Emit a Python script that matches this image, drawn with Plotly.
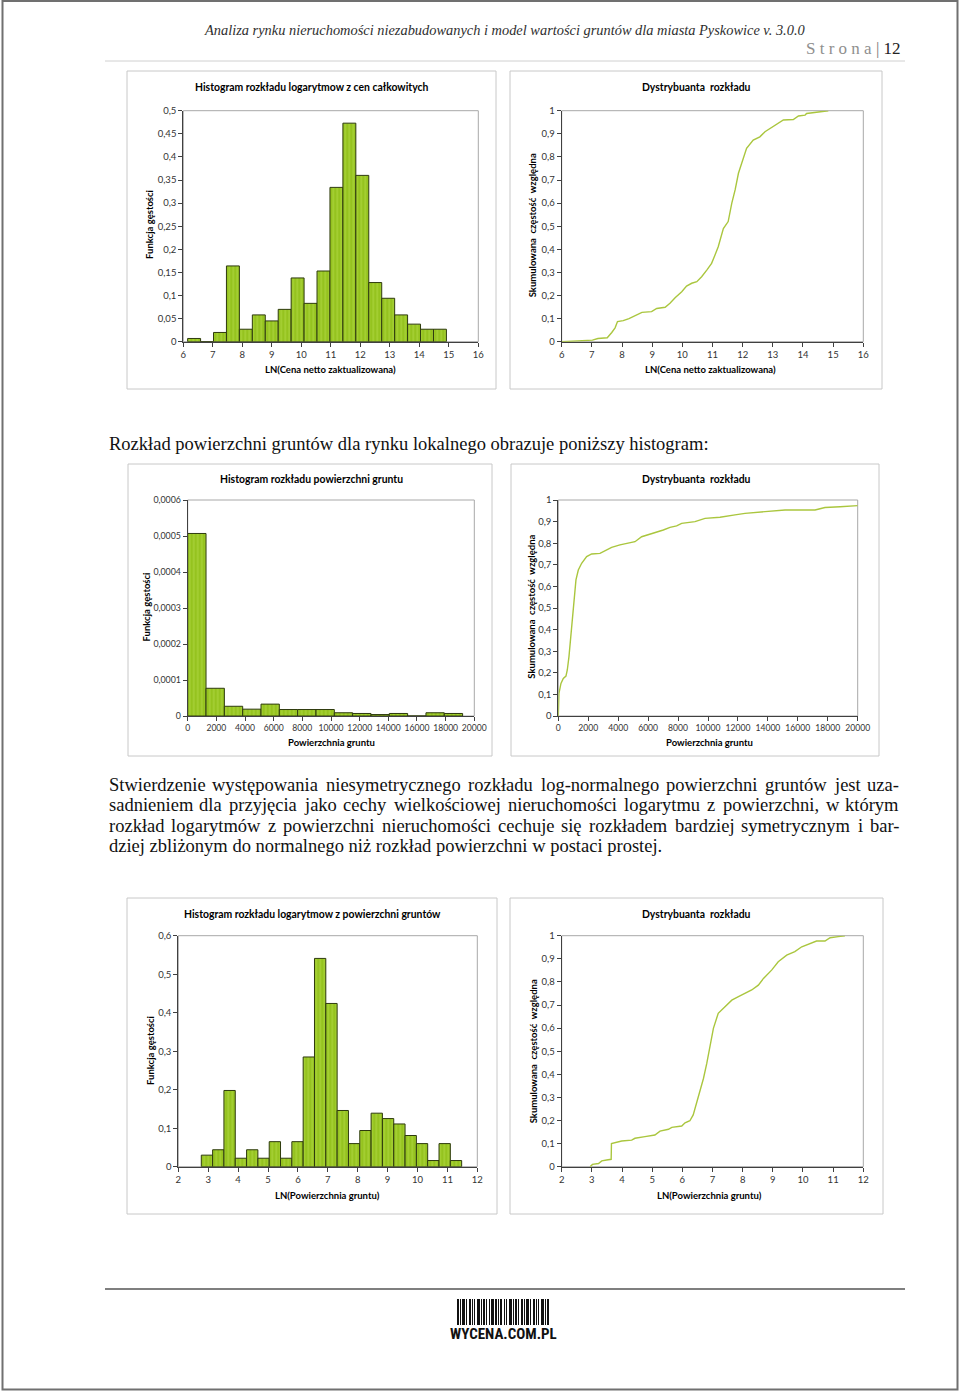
import plotly.graph_objects as go

W, H = 960, 1393

# ---------------- data ----------------
ln_price_bin_left = 6.147
ln_price_bin_width = 0.4386
ln_price_density = [0.007, 0.0, 0.020, 0.164, 0.027, 0.058, 0.045, 0.070, 0.138, 0.083,
                    0.153, 0.334, 0.473, 0.360, 0.128, 0.094, 0.058, 0.038, 0.027, 0.027]

ln_price_cdf_x = [6.0, 7.02, 7.2, 7.51, 7.66, 7.77, 7.85, 8.04, 8.23, 8.49, 8.66, 8.98, 9.15, 9.43,
                  9.59, 9.76, 9.98, 10.14, 10.31, 10.48, 10.64, 10.81, 10.97, 11.08, 11.19, 11.36,
                  11.52, 11.64, 11.75, 11.86, 11.99, 12.13, 12.35, 12.57, 12.74, 12.96, 13.18,
                  13.35, 13.68, 13.85, 14.07, 14.12, 14.45, 14.67, 14.84]
ln_price_cdf_y = [0.0, 0.007, 0.014, 0.017, 0.04, 0.06, 0.087, 0.091, 0.10, 0.115, 0.127, 0.13,
                  0.144, 0.149, 0.166, 0.19, 0.216, 0.241, 0.253, 0.26, 0.281, 0.31, 0.339, 0.374,
                  0.411, 0.49, 0.52, 0.60, 0.657, 0.729, 0.786, 0.837, 0.873, 0.887, 0.909, 0.928,
                  0.948, 0.96, 0.962, 0.977, 0.981, 0.988, 0.993, 0.996, 1.0]

area_bin_left = 0
area_bin_width = 1279
area_density = [5.07e-4, 0.77e-4, 0.27e-4, 0.19e-4, 0.33e-4, 0.18e-4, 0.18e-4, 0.18e-4,
                0.09e-4, 0.07e-4, 0.04e-4, 0.07e-4, 0.0, 0.09e-4, 0.07e-4]

area_cdf_x = [0, 45, 178, 334, 512, 601, 713, 824, 935, 1047, 1180, 1336, 1559, 1893, 2227,
              2784, 3118, 3563, 4120, 4677, 5122, 5568, 6236, 6682, 7016, 7461, 7906, 8240,
              9131, 9800, 10802, 11804, 12472, 13808, 15145, 17149, 17817, 18820, 20000]
area_cdf_y = [0, 0.105, 0.151, 0.174, 0.185, 0.213, 0.275, 0.367, 0.46, 0.552, 0.63, 0.676,
              0.707, 0.738, 0.75, 0.753, 0.765, 0.781, 0.792, 0.80, 0.807, 0.83, 0.843, 0.853,
              0.861, 0.873, 0.88, 0.892, 0.90, 0.915, 0.92, 0.931, 0.938, 0.946, 0.954, 0.954,
              0.965, 0.969, 0.974]

ln_area_bin_left = 2.769
ln_area_bin_width = 0.3786
ln_area_density = [0.030, 0.044, 0.198, 0.022, 0.044, 0.022, 0.065, 0.022, 0.065, 0.285,
                   0.541, 0.424, 0.146, 0.060, 0.094, 0.139, 0.125, 0.111, 0.081, 0.060,
                   0.016, 0.060, 0.016]

ln_area_cdf_x = [2.94, 3.02, 3.22, 3.33, 3.49, 3.64, 3.65, 3.77, 3.99, 4.32, 4.43, 4.76, 5.09,
                 5.26, 5.54, 5.65, 5.98, 6.09, 6.25, 6.36, 6.48, 6.59, 6.70, 6.81, 6.92, 7.03,
                 7.19, 7.41, 7.64, 7.86, 8.08, 8.30, 8.52, 8.69, 8.96, 9.18, 9.46, 9.73, 9.96,
                 10.18, 10.45, 10.73, 10.90, 11.17, 11.39]
ln_area_cdf_y = [0.0, 0.01, 0.014, 0.025, 0.029, 0.032, 0.10, 0.105, 0.111, 0.115, 0.123, 0.13,
                 0.137, 0.154, 0.162, 0.17, 0.176, 0.19, 0.199, 0.224, 0.281, 0.325, 0.382,
                 0.447, 0.527, 0.599, 0.664, 0.693, 0.721, 0.736, 0.75, 0.765, 0.786, 0.815,
                 0.851, 0.887, 0.916, 0.931, 0.952, 0.962, 0.977, 0.977, 0.991, 0.996, 1.0]

# tick values / labels
ticks_ln_price = [6, 7, 8, 9, 10, 11, 12, 13, 14, 15, 16]
ticks_ln_price_text = [str(v) for v in ticks_ln_price]
ticks_area = [0, 2000, 4000, 6000, 8000, 10000, 12000, 14000, 16000, 18000, 20000]
ticks_area_text = [str(v) for v in ticks_area]
ticks_ln_area = [2, 3, 4, 5, 6, 7, 8, 9, 10, 11, 12]
ticks_ln_area_text = [str(v) for v in ticks_ln_area]

ticks_dens1 = [0, 0.05, 0.1, 0.15, 0.2, 0.25, 0.3, 0.35, 0.4, 0.45, 0.5]
ticks_dens1_text = ["0", "0,05", "0,1", "0,15", "0,2", "0,25", "0,3", "0,35", "0,4", "0,45", "0,5"]
ticks_dens3 = [0, 0.0001, 0.0002, 0.0003, 0.0004, 0.0005, 0.0006]
ticks_dens3_text = ["0", "0,0001", "0,0002", "0,0003", "0,0004", "0,0005", "0,0006"]
ticks_dens5 = [0, 0.1, 0.2, 0.3, 0.4, 0.5, 0.6]
ticks_dens5_text = ["0", "0,1", "0,2", "0,3", "0,4", "0,5", "0,6"]
ticks_cdf = [0, 0.1, 0.2, 0.3, 0.4, 0.5, 0.6, 0.7, 0.8, 0.9, 1]
ticks_cdf_text = ["0", "0,1", "0,2", "0,3", "0,4", "0,5", "0,6", "0,7", "0,8", "0,9", "1"]

# texts
header_text = "Analiza rynku nieruchomości niezabudowanych i model wartości gruntów dla miasta Pyskowice v. 3.0.0"
intro_text = "Rozkład powierzchni gruntów dla rynku lokalnego obrazuje poniższy histogram:"
paragraph_lines = [
    "Stwierdzenie występowania niesymetrycznego rozkładu log-normalnego powierzchni gruntów jest uza-",
    "sadnieniem dla przyjęcia jako cechy wielkościowej nieruchomości logarytmu z powierzchni, w którym",
    "rozkład logarytmów z powierzchni nieruchomości cechuje się rozkładem bardziej symetrycznym i bar-",
    "dziej zbliżonym do normalnego niż rozkład powierzchni w postaci prostej.",
]

# ---------------- helpers ----------------
def fx(px):
    return px / W


def fy(py):
    return 1 - py / H


CH_FONT = "Lato, Carlito, Calibri, sans-serif"
SERIF = "Liberation Serif, Times New Roman, serif"
BAR_FILL = "#95C31F"
BAR_STRIPE = "#C2E65A"
BAR_LINE = "#2E3A0E"
CDF_COLOR = "#AAC63E"
TICK_COLOR = "#333333"

# Times-Roman advance widths (per 1000 em), used to lay out justified lines
TW = {' ': 250, ',': 250, '.': 250, '-': 333, ':': 278, '(': 333, ')': 333,
      'a': 444, 'b': 500, 'c': 444, 'd': 500, 'e': 444, 'f': 333, 'g': 500, 'h': 500,
      'i': 278, 'j': 278, 'k': 500, 'l': 278, 'm': 778, 'n': 500, 'o': 500, 'p': 500,
      'q': 500, 'r': 333, 's': 389, 't': 278, 'u': 500, 'v': 500, 'w': 722, 'x': 500,
      'y': 500, 'z': 444, 'ą': 444, 'ć': 444, 'ę': 444, 'ł': 278, 'ń': 500, 'ó': 500,
      'ś': 389, 'ź': 444, 'ż': 444, 'S': 556, 'R': 667, 'A': 722, 'P': 556}


def tw(s):
    return sum(TW.get(c, 500) for c in s)


fig = go.Figure()

# plot-area pixel boxes (left, right, top, bottom)
areas = {
    1: (183.3, 478.3, 110.7, 341.7),
    2: (561.7, 863.3, 110.7, 341.7),
    3: (187.7, 474.3, 500.0, 716.0),
    4: (558.3, 857.7, 500.0, 716.0),
    5: (178.3, 477.3, 935.7, 1166.7),
    6: (561.7, 863.3, 935.7, 1166.7),
}
axis_cfg = {
    1: ([6, 16], ticks_ln_price, ticks_ln_price_text, [0, 0.5], ticks_dens1, ticks_dens1_text),
    2: ([6, 16], ticks_ln_price, ticks_ln_price_text, [0, 1], ticks_cdf, ticks_cdf_text),
    3: ([0, 20000], ticks_area, ticks_area_text, [0, 0.0006], ticks_dens3, ticks_dens3_text),
    4: ([0, 20000], ticks_area, ticks_area_text, [0, 1], ticks_cdf, ticks_cdf_text),
    5: ([2, 12], ticks_ln_area, ticks_ln_area_text, [0, 0.6], ticks_dens5, ticks_dens5_text),
    6: ([2, 12], ticks_ln_area, ticks_ln_area_text, [0, 1], ticks_cdf, ticks_cdf_text),
}


def axname(k, a):
    return a if k == 1 else f"{a}{k}"


layout_axes = {}
shapes = []
for k, (l, r, t, b) in areas.items():
    xr, xtv, xtt, yr, ytv, ytt = axis_cfg[k]
    xfs = 8.6 if k in (3, 4) else 9.5
    yfs = 8.8 if k == 3 else 9.5
    layout_axes["xaxis" if k == 1 else f"xaxis{k}"] = dict(
        domain=[fx(l), fx(r)], range=xr, anchor=axname(k, "y"), automargin=False,
        tickvals=xtv, ticktext=xtt, ticks="outside", ticklen=4, tickcolor="#404040",
        tickangle=0,
        showline=True, linecolor="#404040", linewidth=1, showgrid=False, zeroline=False,
        tickfont=dict(family=CH_FONT, size=xfs, color=TICK_COLOR), fixedrange=True)
    layout_axes["yaxis" if k == 1 else f"yaxis{k}"] = dict(
        domain=[fy(b), fy(t)], range=yr, anchor=axname(k, "x"), automargin=False,
        tickvals=ytv, ticktext=ytt, ticks="outside", ticklen=4, tickcolor="#404040",
        showline=True, linecolor="#404040", linewidth=1, showgrid=False, zeroline=False,
        tickfont=dict(family=CH_FONT, size=yfs, color=TICK_COLOR), fixedrange=True)
    # plot-area frame (light grey, like Excel)
    shapes.append(dict(type="rect", xref=axname(k, "x") + " domain", yref=axname(k, "y") + " domain",
                       x0=0, x1=1, y0=0, y1=1, line=dict(color="#A8A8A8", width=1), layer="below"))

# chart boxes
boxes = [(127, 496, 71, 389), (510, 882, 71, 389), (128, 492, 464, 756), (511, 879, 464, 756),
         (127, 497, 898, 1214), (510, 883, 898, 1214)]
for (l, r, t, b) in boxes:
    shapes.append(dict(type="rect", xref="paper", yref="paper", x0=fx(l), x1=fx(r),
                       y0=fy(b), y1=fy(t), line=dict(color="#C8C8C8", width=1), layer="below"))

# page frame and rules
shapes.append(dict(type="rect", xref="paper", yref="paper", x0=fx(2.5), x1=fx(957.5), y0=fy(1389.5),
                   y1=fy(1), line=dict(color="#707070", width=2)))
shapes.append(dict(type="line", xref="paper", yref="paper", x0=fx(105), x1=fx(905), y0=fy(61),
                   y1=fy(61), line=dict(color="#D0D0D0", width=1)))
shapes.append(dict(type="line", xref="paper", yref="paper", x0=fx(105), x1=fx(905), y0=fy(1289),
                   y1=fy(1289), line=dict(color="#555555", width=1.5)))

# barcode logo (decorative)
barcode_pattern = [2, 1, 1, 1, 3, 1, 1, 2, 2, 1, 1, 1, 1, 2, 3, 1, 1, 1, 2, 1, 1, 2, 1, 1,
                   3, 1, 2, 1, 1, 1, 2, 2, 1, 1, 1, 2, 3, 1, 1, 1, 2, 1, 1, 2]
bx = 457.0
i = 0
while bx < 550:
    w = barcode_pattern[i % len(barcode_pattern)]
    if i % 2 == 0:
        shapes.append(dict(type="rect", xref="paper", yref="paper", x0=fx(bx), x1=fx(min(bx + w, 551)),
                           y0=fy(1325), y1=fy(1299), line=dict(width=0), fillcolor="#111111"))
    bx += w
    i += 1


def bar_trace(k, left, width, dens):
    centers = [left + (i + 0.5) * width for i in range(len(dens))]
    return go.Bar(x=centers, y=dens, width=width, xaxis=axname(k, "x"), yaxis=axname(k, "y"),
                  marker=dict(color=BAR_FILL, line=dict(color=BAR_LINE, width=1),
                              pattern=dict(shape="|", fgcolor=BAR_STRIPE, size=4, solidity=0.3)),
                  hoverinfo="skip")


def cdf_trace(k, xs, ys):
    return go.Scatter(x=xs, y=ys, mode="lines", xaxis=axname(k, "x"), yaxis=axname(k, "y"),
                      line=dict(color=CDF_COLOR, width=1.4), hoverinfo="skip")


fig.add_trace(bar_trace(1, ln_price_bin_left, ln_price_bin_width, ln_price_density))
fig.add_trace(cdf_trace(2, ln_price_cdf_x, ln_price_cdf_y))
fig.add_trace(bar_trace(3, area_bin_left, area_bin_width, area_density))
fig.add_trace(cdf_trace(4, area_cdf_x, area_cdf_y))
fig.add_trace(bar_trace(5, ln_area_bin_left, ln_area_bin_width, ln_area_density))
fig.add_trace(cdf_trace(6, ln_area_cdf_x, ln_area_cdf_y))

annotations = []


def ann(text, x, y, size, family=CH_FONT, color="#000000", xanchor="center", angle=0):
    annotations.append(dict(text=text, x=fx(x), y=fy(y), xref="paper", yref="paper",
                            xanchor=xanchor, yanchor="middle", showarrow=False, textangle=angle,
                            font=dict(family=family, size=size, color=color), borderpad=0))


# chart titles
chart_titles = [
    ("Histogram rozkładu logarytmow z cen całkowitych", 311.5, 87.5),
    ("Dystrybuanta\u00a0 rozkładu", 696.5, 87.5),
    ("Histogram rozkładu powierzchni gruntu", 311.5, 479),
    ("Dystrybuanta\u00a0 rozkładu", 696.5, 479),
    ("Histogram rozkładu logarytmow z powierzchni gruntów", 312.5, 913.5),
    ("Dystrybuanta\u00a0 rozkładu", 696.5, 913.5),
]
for t, x, y in chart_titles:
    ann("<b>" + t + "</b>", x, y, 10.4)

x_titles = [
    ("LN(Cena netto zaktualizowana)", 330.5, 369.3),
    ("LN(Cena netto zaktualizowana)", 710.5, 369.3),
    ("Powierzchnia gruntu", 331, 742.5),
    ("Powierzchnia gruntu", 709, 742.5),
    ("LN(Powierzchnia gruntu)", 327, 1195),
    ("LN(Powierzchnia gruntu)", 709, 1195),
]
for t, x, y in x_titles:
    ann("<b>" + t + "</b>", x, y, 9.5)

y_titles = [
    ("Funkcja gęstości", 150, 225),
    ("Skumulowana\u00a0 częstość\u00a0 względna", 533.3, 225),
    ("Funkcja gęstości", 146.5, 607),
    ("Skumulowana\u00a0 częstość\u00a0 względna", 531.7, 607),
    ("Funkcja gęstości", 150, 1051),
    ("Skumulowana\u00a0 częstość\u00a0 względna", 533.3, 1051),
]
for t, x, y in y_titles:
    ann("<b>" + t + "</b>", x, y, 9.5, angle=-90)

# header
ann("<i>" + header_text + "</i>", 505, 30, 14.4, family=SERIF, color="#2f2f2f")
ann("<span style='color:#8f8f8f'>S t r o n a</span> <span style='color:#777777'>|</span> 12",
    902, 48, 17, family=SERIF, color="#222222", xanchor="right")

# body text
body_size = 600 * 1000 / tw(intro_text)
ann(intro_text, 108, 443, body_size, family=SERIF, color="#111111", xanchor="left")

para_y = [784, 804.5, 825, 845.5]
for li, line in enumerate(paragraph_lines):
    y = para_y[li]
    if li == len(paragraph_lines) - 1:
        ann(line, 108, y, body_size, family=SERIF, color="#111111", xanchor="left")
        continue
    words = line.split(" ")
    widths = [tw(w) * body_size / 1000 for w in words]
    gap = (900 - 108 - sum(widths)) / (len(words) - 1)
    x = 108
    for wi, (w, wd) in enumerate(zip(words, widths)):
        if wi == 0:
            ann(w, x, y, body_size, family=SERIF, color="#111111", xanchor="left")
        elif wi == len(words) - 1:
            ann(w, 900, y, body_size, family=SERIF, color="#111111", xanchor="right")
        else:
            ann(w, x + wd / 2, y, body_size, family=SERIF, color="#111111", xanchor="center")
        x += wd + gap

# logo text
ann("<b>WYCENA.COM.PL</b>", 503.5, 1334, 15,
    family="Liberation Sans Narrow, Roboto Condensed, Roboto, sans-serif", color="#111111")

fig.update_layout(
    width=W, height=H, autosize=False, margin=dict(l=0, r=0, t=0, b=0, pad=0),
    paper_bgcolor="white", plot_bgcolor="white", showlegend=False,
    shapes=shapes, annotations=annotations, **layout_axes,
)

fig.write_html("out.html",
               config={"displayModeBar": False, "responsive": False},
               post_script="document.body.style.margin='0px';"
                           "document.documentElement.style.overflow='hidden';"
                           "document.body.style.overflow='hidden';")
